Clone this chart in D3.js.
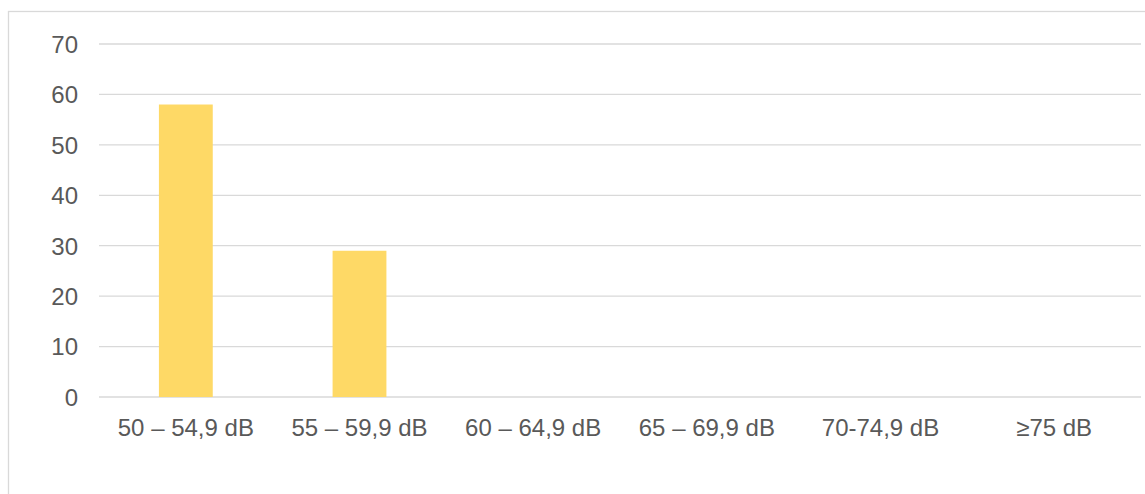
<!DOCTYPE html>
<html><head><meta charset="utf-8">
<script src="https://cdn.jsdelivr.net/npm/d3@7"></script>
<style>body{margin:0;background:#fff;}svg{display:block;font-family:"Liberation Sans",Arial,sans-serif;}</style>
</head><body>
<script>
const categories = ["50 – 54,9 dB","55 – 59,9 dB","60 – 64,9 dB","65 – 69,9 dB","70-74,9 dB","≥75 dB"];
const values = [58, 29, 0, 0, 0, 0];
const yTicks = [0,10,20,30,40,50,60,70];

const W = 1145, H = 494;
const svg = d3.select("body").append("svg").attr("width", W).attr("height", H);
svg.append("rect").attr("x", 8.5).attr("y", 11.5).attr("width", W + 10).attr("height", H + 10)
  .attr("fill", "#fff").attr("stroke", "#d9d9d9").attr("stroke-width", 1.3);

const x = d3.scaleBand().domain(categories).range([99, 1141]).padding(0);
const y = d3.scaleLinear().domain([0, 70]).range([397, 44]);

const grid = svg.append("g");
grid.selectAll("line").data(yTicks).join("line")
  .attr("x1", 99).attr("x2", 1141)
  .attr("y1", d => y(d)).attr("y2", d => y(d))
  .attr("stroke", "#d9d9d9").attr("stroke-width", 1.3);

const yAxis = d3.axisLeft(y).tickValues(yTicks).tickSize(0).tickPadding(0);
const ga = svg.append("g").attr("transform", "translate(78,0)").call(yAxis);
ga.select(".domain").remove();
ga.selectAll("text").attr("fill", "#595959").style("font-size", "24px").attr("dy", "0.35em")
  .style("font-family", '"Liberation Sans",Arial,sans-serif');

const bw = x.bandwidth() * 0.31;
svg.append("g").selectAll("rect").data(values).join("rect")
  .attr("x", (d, i) => x(categories[i]) + x.bandwidth() / 2 - bw / 2)
  .attr("width", bw)
  .attr("y", d => y(d))
  .attr("height", d => y(0) - y(d))
  .attr("fill", "#fed966");

const xAxis = d3.axisBottom(x).tickSize(0).tickPadding(0);
const gx = svg.append("g").attr("transform", "translate(0,428)").call(xAxis);
gx.select(".domain").remove();
gx.selectAll("text").attr("fill", "#595959").style("font-size", "24px").attr("dy", "0.35em").attr("y", 0)
  .style("font-family", '"Liberation Sans",Arial,sans-serif');
</script>
</body></html>
